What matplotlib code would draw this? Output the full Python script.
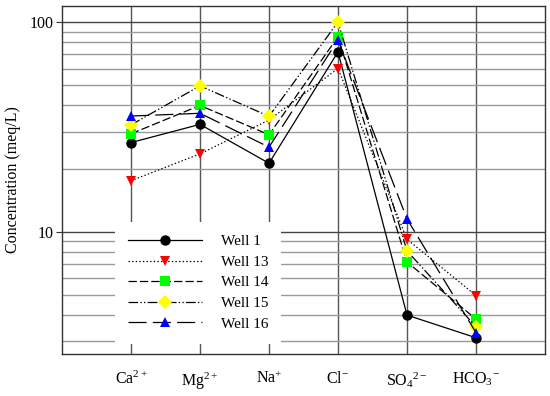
import matplotlib
matplotlib.use("Agg")
import matplotlib.pyplot as plt
from matplotlib.ticker import LogLocator, NullFormatter, FixedLocator

plt.rcParams['font.family'] = ['Liberation Serif', 'DejaVu Serif']
plt.rcParams['mathtext.fontset'] = 'custom'
plt.rcParams['mathtext.rm'] = 'Liberation Serif'
plt.rcParams['mathtext.it'] = 'Liberation Serif:italic'
plt.rcParams['mathtext.default'] = 'regular'
plt.rcParams['lines.scale_dashes'] = False

categories = ["Ca$^{2+}$", "Mg$^{2+}$", "Na$^{+}$", "Cl$^{-}$", "SO$_4$$^{2-}$", "HCO$_3$$^{-}$"]
wells = ["Well 1", "Well 13", "Well 14", "Well 15", "Well 16"]
well1 = [26.6, 32.5, 21.2, 72, 4.0, 3.12]
well13 = [17.5, 23.5, 34.1, 60, 9.2, 4.96]
well14 = [29.3, 40.0, 29.0, 85, 7.17, 3.83]
well15 = [32.3, 49.6, 35.5, 100, 8.1, 3.52]
well16 = [35.6, 36.7, 25.3, 82, 11.5, 3.30]
series = [well1, well13, well14, well15, well16]

colors = ["#000000", "#ff0000", "#00ff00", "#ffff00", "#0000ff"]
markers = ["o", "v", "s", "D", "^"]
msizes = [7.5, 7.5, 7.0, 7.0, 7.5]
styles = ["-", (0, (1, 1.6)), (0, (6, 2.2)), (0, (7, 1.6, 1, 1.6, 1, 1.6)), (0, (13, 4.5))]

fig = plt.figure(figsize=(5.5, 3.96), dpi=100)
ax = fig.add_axes([62/550, 1-354/396, 483/550, 348.3/396])

x = list(range(1, len(categories)+1))
for s, lab, c, m, ms, ls in zip(series, wells, colors, markers, msizes, styles):
    ax.plot(x, s, color='black', linewidth=0.9, linestyle=ls, marker=m,
            markersize=ms, markerfacecolor=c, markeredgecolor=c,
            markeredgewidth=0, label=lab, zorder=3)

ax.set_yscale('log')
ax.set_ylim(2.61, 119.6)
ax.set_xlim(0, 7)
ax.set_xticks(x)
ax.set_xticklabels(categories, fontsize=11.5)
ax.tick_params(axis='x', length=0, pad=12)
ax.yaxis.set_major_locator(FixedLocator([10, 100]))
ax.yaxis.set_minor_locator(LogLocator(base=10, subs=range(2, 10)))
ax.yaxis.set_minor_formatter(NullFormatter())
ax.set_yticklabels(["10", "100"])
ax.tick_params(axis='y', which='major', length=4, direction='out', labelsize=11.5, pad=2, color='#333333')
ax.tick_params(axis='y', which='minor', length=0)

ax.grid(True, axis='x', color='#555555', linewidth=1.0, zorder=0)
ax.grid(True, axis='y', which='major', color='#444444', linewidth=1.0, zorder=0)
ax.grid(True, axis='y', which='minor', color='#9a9a9a', linewidth=1.0, zorder=0)
ax.set_axisbelow(True)
for sp in ax.spines.values():
    sp.set_color('#333333')
    sp.set_linewidth(1.0)

ax.set_ylabel("Concentration (meq/L)", fontsize=11.5, labelpad=6)

leg = ax.legend(loc='upper left', bbox_to_anchor=(0.11, 0.38), borderaxespad=0,
                frameon=True, fancybox=False, framealpha=1, edgecolor='none',
                facecolor='white', fontsize=11, numpoints=1, handlelength=4.85,
                handletextpad=1.2, labelspacing=0.45, borderpad=0.85)
leg.set_zorder(5)

fig.savefig("out.png", dpi=100)
